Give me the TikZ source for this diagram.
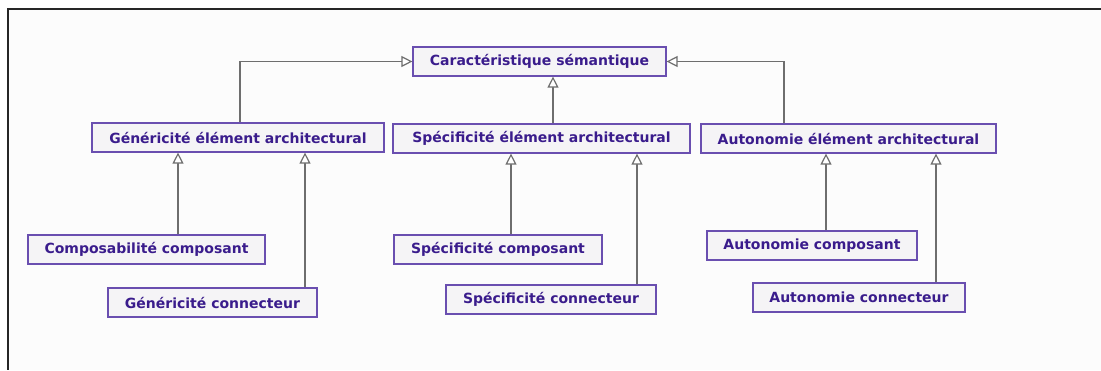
\documentclass[tikz,border=0pt]{standalone}
\usepackage{fontspec}
\setmainfont{DejaVu Sans}
\usetikzlibrary{arrows.meta,positioning}

\definecolor{boxedge}{HTML}{6A4FB0}
\definecolor{boxfill}{HTML}{F5F4F6}
\definecolor{boxtext}{HTML}{3A1C8C}
\definecolor{linkgray}{HTML}{6E6E6E}

\begin{document}
\begin{tikzpicture}[
  x=1pt,y=-1pt,
  box/.style={draw=boxedge, fill=boxfill, line width=1.2pt, text=boxtext, font=\fontsize{14}{16}\selectfont\bfseries, minimum height=29pt, inner xsep=0pt, inner ysep=2pt},
  arr/.style={-{Triangle[open, fill=white, length=11pt, width=11pt]}, draw=linkgray, line width=1.2pt}
]
\useasboundingbox (0,0) rectangle (1101,370);
\fill[white] (0,0) rectangle (1101,370);
\fill[black!1] (8,9) rectangle (1101,370);
\draw[line width=2pt, black!85] (1101,9) -- (8,9) -- (8,370);

\node[box, minimum width=253pt] (carac) at (539.5,61.5) {Caractéristique sémantique};
\node[box, minimum width=292pt] (genarch) at (238,137.5) {Généricité élément architectural};
\node[box, minimum width=297pt] (specarch) at (541.5,138.5) {Spécificité élément architectural};
\node[box, minimum width=295pt] (autarch) at (848.5,138.5) {Autonomie élément architectural};
\node[box, minimum width=237pt] (gcomp) at (146.5,249.5) {Composabilité composant};
\node[box, minimum width=209pt] (gconn) at (212.5,302.5) {Généricité connecteur};
\node[box, minimum width=208pt] (scomp) at (498,249.5) {Spécificité composant};
\node[box, minimum width=210pt] (sconn) at (551,299.5) {Spécificité connecteur};
\node[box, minimum width=210pt] (acomp) at (812,245.5) {Autonomie composant};
\node[box, minimum width=212pt] (aconn) at (859,297.5) {Autonomie connecteur};

\draw[arr] (genarch.north -| 240,0) |- (carac.west);
\draw[arr] (autarch.north -| 784,0) |- (carac.east);
\draw[arr] (specarch.north -| 553,0) -- (carac.south -| 553,0);
\draw[arr] (gcomp.north -| 178,0) -- (genarch.south -| 178,0);
\draw[arr] (gconn.north -| 305,0) -- (genarch.south -| 305,0);
\draw[arr] (scomp.north -| 511,0) -- (specarch.south -| 511,0);
\draw[arr] (sconn.north -| 637,0) -- (specarch.south -| 637,0);
\draw[arr] (acomp.north -| 826,0) -- (autarch.south -| 826,0);
\draw[arr] (aconn.north -| 936,0) -- (autarch.south -| 936,0);
\end{tikzpicture}
\end{document}
